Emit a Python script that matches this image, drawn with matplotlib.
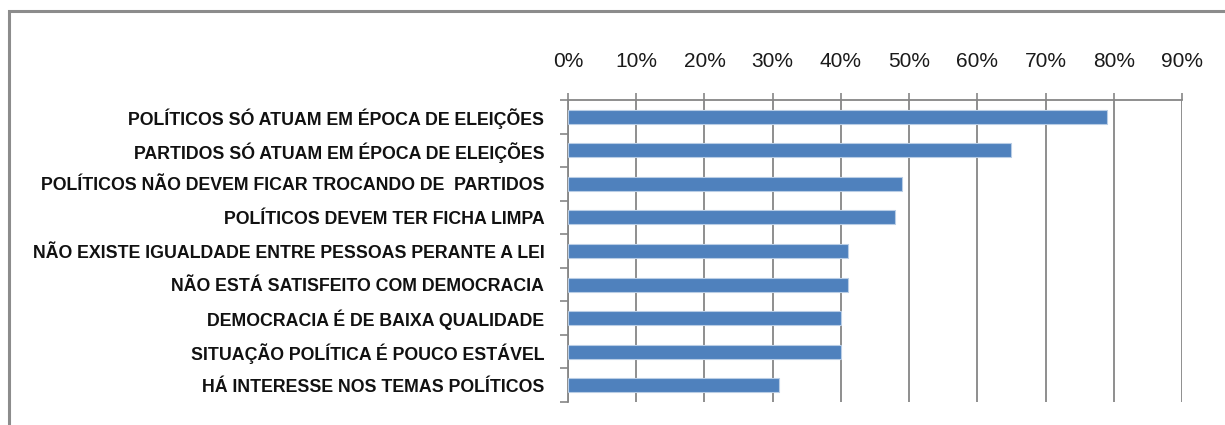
import numpy as np
import matplotlib
matplotlib.use("Agg")
import matplotlib.pyplot as plt
from matplotlib.patches import Rectangle
from matplotlib.ticker import FixedLocator

categorias = [
    "POLÍTICOS SÓ ATUAM EM ÉPOCA DE ELEIÇÕES",
    "PARTIDOS SÓ ATUAM EM ÉPOCA DE ELEIÇÕES",
    "POLÍTICOS NÃO DEVEM FICAR TROCANDO DE  PARTIDOS",
    "POLÍTICOS DEVEM TER FICHA LIMPA",
    "NÃO EXISTE IGUALDADE ENTRE PESSOAS PERANTE A LEI",
    "NÃO ESTÁ SATISFEITO COM DEMOCRACIA",
    "DEMOCRACIA É DE BAIXA QUALIDADE",
    "SITUAÇÃO POLÍTICA É POUCO ESTÁVEL",
    "HÁ INTERESSE NOS TEMAS POLÍTICOS",
]
valores = [0.79, 0.65, 0.49, 0.48, 0.41, 0.41, 0.40, 0.40, 0.31]
ticks_x = [0, 0.1, 0.2, 0.3, 0.4, 0.5, 0.6, 0.7, 0.8, 0.9]

plt.rcParams['font.family'] = ['Liberation Sans', 'DejaVu Sans']

fig = plt.figure(figsize=(12.25, 4.25), dpi=100)
# moldura cinza
fig.patches.append(Rectangle((9/1225, -0.1), 1.2, 1 - 11/425 + 0.1, transform=fig.transFigure,
                             fill=False, edgecolor='#8c8c8c', linewidth=2.2))

ax = fig.add_axes([568/1225, 1 - 402/425, (1182 - 568)/1225, (402 - 100)/425])
y = np.arange(len(categorias))
ax.barh(y, valores, height=0.42, color='#4F81BD', edgecolor='#b9cde5', linewidth=0.8, zorder=3)
ax.set_ylim(len(categorias) - 0.5, -0.5)
ax.set_xlim(0, 0.9)

ax.xaxis.tick_top()
ax.set_xticks(ticks_x)
ax.set_xticklabels(["%d%%" % round(t*100) for t in ticks_x], fontsize=15, color='#1a1a1a')
ax.tick_params(axis='x', length=5, width=1.2, color='#868686', pad=16)
ax.grid(axis='x', color='#868686', linewidth=1.3, zorder=0)

ax.set_yticks(y)
ax.set_yticklabels(categorias, fontsize=12.8, fontweight='bold', color='#111111')
ax.yaxis.set_minor_locator(FixedLocator(np.arange(-0.5, len(categorias), 1)))
ax.tick_params(axis='y', which='major', length=0, pad=17)
ax.tick_params(axis='y', which='minor', length=6, width=1.2, color='#868686')

for s in ['right', 'bottom']:
    ax.spines[s].set_visible(False)
for s in ['top', 'left']:
    ax.spines[s].set_color('#868686')
    ax.spines[s].set_linewidth(1.3)

fig.savefig("out.png", dpi=100)
